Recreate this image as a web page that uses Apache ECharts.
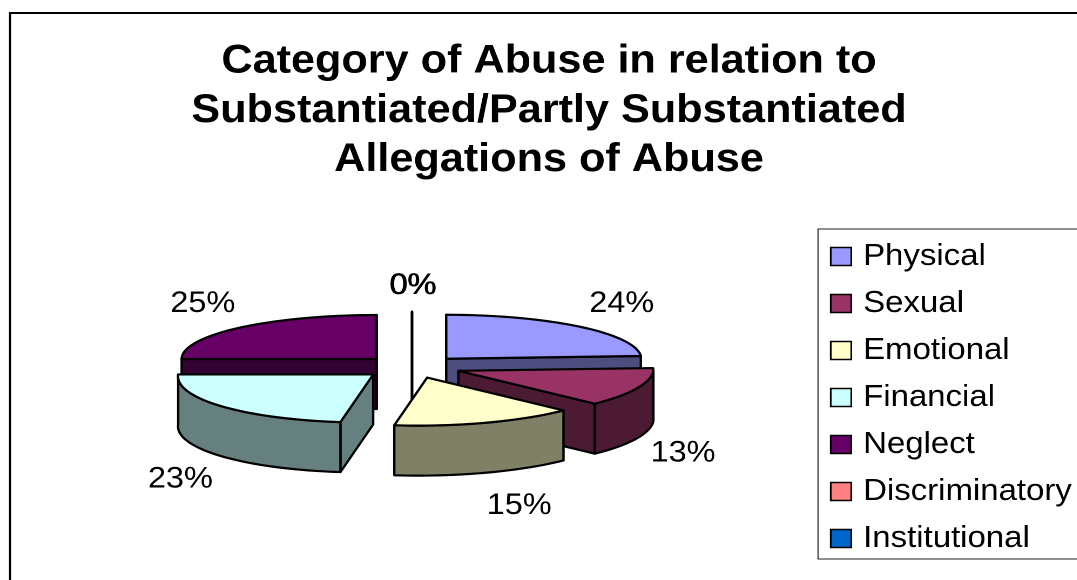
<!DOCTYPE html>
<html>
<head>
<meta charset="utf-8">
<style>
html,body{margin:0;padding:0;background:#fff;overflow:hidden}
#stage{width:997.2px;height:580px;transform:scaleX(1.08);transform-origin:0 0}
</style>
<script src="https://cdn.jsdelivr.net/npm/echarts@6/dist/echarts.min.js"></script>
</head>
<body>
<div id="stage"></div>
<script>
// Share of substantiated allegations per abuse category, in percent
const categories = ['Physical','Sexual','Emotional','Financial','Neglect','Discriminatory','Institutional'];
const shares = [24,13,15,23,25,0,0];
const colors = ['#9999FF','#993366','#FFFFCC','#CCFFFF','#660066','#FF8080','#0066CC'];
const titleLines = ['Category of Abuse in relation to','Substantiated/Partly Substantiated','Allegations of Abuse'];

// The sheet is laid out in a font-true space and widened by the stage transform
const SX = 1.08;
const FONT = '"Liberation Sans", Arial, sans-serif';
const PIE = {cx:412/SX, cy:367, rx:195/SX, ryFar:44, ryNear:48, depth:50, explode:50/SX, stroke:2.2, lean:0.175};
// Painter's order, back of the pie first
const paintRank = [1,4,6,5,0,2,3];
// Label shift from the midpoint of each slice's rim
const labelNudge = [[42,-23],[44,66],[34,83],[-41,73],[-36,-24],[0.6,-26],[1.4,-26]];

const rad = d => d*Math.PI/180;
const shade = hex => '#'+[1,3,5].map(i => Math.round(parseInt(hex.substr(i,2),16)/2).toString(16).padStart(2,'0')).join('');
const startAngles = shares.map((_,i) => shares.slice(0,i).reduce((a,b)=>a+b,0)*3.6);

function sliceRender(index){
  return function(params, api){
    const value = api.value(0);
    const a0 = startAngles[index], a1 = a0+value*3.6, mid = (a0+a1)/2;
    // Exploded apex, moved along the slice's mid angle in the tilted plane
    const offY = -PIE.explode*Math.cos(rad(mid))*PIE.ryFar/PIE.rx;
    const ax = PIE.cx+PIE.explode*Math.sin(rad(mid))-PIE.lean*Math.max(0,offY)/SX;
    const ay = PIE.cy+offY;
    // Rim point; the near half of the ellipse is deeper and leans slightly left
    const rim = a => {
      const c = Math.cos(rad(a));
      const dy = c>0 ? -PIE.ryFar*c : -PIE.ryNear*c;
      return [ax+PIE.rx*Math.sin(rad(a))-PIE.lean*Math.max(0,dy)/SX, ay+dy];
    };
    const down = p => [p[0],p[1]+PIE.depth];
    const sweep = (from,to) => {
      const pts=[]; const n=Math.max(1,Math.ceil((to-from)/2));
      for(let i=0;i<=n;i++) pts.push(rim(from+(to-from)*i/n));
      return pts;
    };
    const fill = colors[index], wall = shade(fill);
    const poly = (points,color) => ({type:'polygon',shape:{points},
      style:{fill:color,stroke:'#000',lineWidth:PIE.stroke,lineJoin:'round'},silent:true});
    const children=[];
    // Radial walls that face the viewer
    [[a0,a0-90],[a1,a1+90]].forEach(([a,normal])=>{
      if(Math.cos(rad(normal))<1e-6){
        const p=rim(a), c=[ax,ay];
        children.push(poly([c,p,down(p),down(c)],wall));
      }
    });
    // Curved outer wall on the near half of the ellipse
    const f0=Math.max(a0,90), f1=Math.min(a1,270);
    if(f1>f0){
      const top=sweep(f0,f1);
      children.push(poly(top.concat(top.map(down).reverse()),wall));
    }
    // Top face
    if(a1>a0) children.push(poly([[ax,ay]].concat(sweep(a0,a1)),fill));
    const m=rim(mid), nudge=labelNudge[index];
    children.push({type:'text',silent:true,style:{
      text:value+'%',x:m[0]+nudge[0]/SX,y:m[1]+nudge[1],
      fill:'#000',font:'30px '+FONT,align:'center',verticalAlign:'middle'}});
    return {type:'group',children};
  };
}

const chart = echarts.init(document.getElementById('stage'),null,{devicePixelRatio:2});
chart.setOption({
  animation:false,
  backgroundColor:'#fff',
  title:{
    text:titleLines.join('\n'),
    left:549/SX, top:37, padding:0, textAlign:'center',
    textStyle:{fontFamily:FONT,fontWeight:'bold',fontSize:40,lineHeight:49.2,color:'#000'}
  },
  legend:{
    orient:'vertical', left:818/SX, top:229,
    data:categories, icon:'rect',
    itemWidth:19, itemHeight:18, itemGap:16,
    padding:[12,40,5,11],
    selectedMode:false,
    backgroundColor:'#fff', borderColor:'#222', borderWidth:1,
    itemStyle:{borderColor:'#000',borderWidth:1.6},
    textStyle:{fontFamily:FONT,fontSize:30.5,color:'#000',padding:[2,0,0,6],lineHeight:18}
  },
  graphic:[{type:'rect',silent:true,z:-1,
    shape:{x:10/SX,y:13,width:1300,height:800},
    style:{fill:'none',stroke:'#000',lineWidth:2}}],
  series:categories.map((name,i)=>({
    type:'custom',name,coordinateSystem:'none',
    z:2+paintRank[i],
    itemStyle:{color:colors[i]},
    renderItem:sliceRender(i),
    data:[[shares[i]]]
  }))
});
</script>
</body>
</html>
